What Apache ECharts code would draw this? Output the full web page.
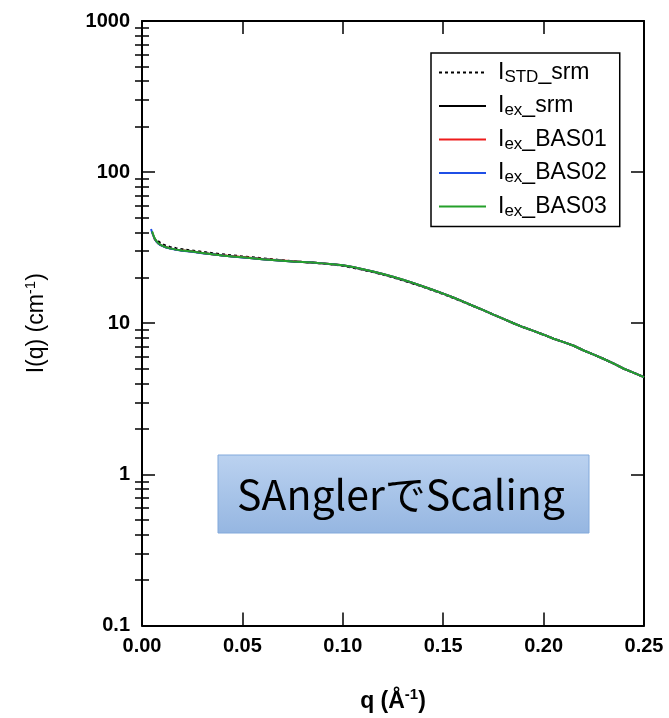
<!DOCTYPE html>
<html><head><meta charset="utf-8">
<script src="https://cdn.jsdelivr.net/npm/echarts@6/dist/echarts.min.js"></script>
<style>html,body{margin:0;padding:0;background:#fff}#c{width:669px;height:718px}</style>
</head><body><div id="c"></div>
<script>
// ---- data ----
const q = [0.0045, 0.005, 0.006, 0.007, 0.008, 0.009, 0.010, 0.012, 0.014, 0.017, 0.020, 0.025, 0.030, 0.035, 0.040, 0.045, 0.050, 0.055, 0.060, 0.065, 0.070, 0.075, 0.080, 0.085, 0.090, 0.095, 0.100, 0.105, 0.110, 0.115, 0.120, 0.125, 0.130, 0.135, 0.140, 0.145, 0.150, 0.155, 0.160, 0.165, 0.170, 0.175, 0.180, 0.185, 0.190, 0.195, 0.200, 0.205, 0.210, 0.215, 0.220, 0.225, 0.230, 0.235, 0.240, 0.245, 0.250];

const I_STD_srm = [null, null, null, null, 35.0, 34.2, 33.5, 32.6, 32.0, 31.4, 30.9, 30.3, 29.7, 29.1, 28.6, 28.1, 27.7, 27.3, 26.9, 26.5, 26.1, 25.7, 25.4, 25.1, 24.8, 24.5, 24.0, 23.3, 22.6, 21.8, 21.0, 20.1, 19.2, 18.3, 17.4, 16.5, 15.6, 14.7, 13.8, 13.0, 12.2, 11.4, 10.7, 10.0, 9.4, 8.9, 8.4, 7.9, 7.5, 7.1, 6.6, 6.2, 5.8, 5.4, 5.0, 4.7, 4.4];
const I_ex_srm  = [null, null, 36.6, 35.0, 33.9, 33.1, 32.6, 31.8, 31.3, 30.7, 30.3, 29.8, 29.2, 28.6, 28.1, 27.7, 27.3, 26.9, 26.5, 26.2, 25.9, 25.6, 25.4, 25.2, 24.9, 24.6, 24.1, 23.5, 22.7, 21.9, 21.1, 20.2, 19.3, 18.4, 17.5, 16.6, 15.7, 14.8, 13.9, 13.0, 12.2, 11.4, 10.7, 10.0, 9.4, 8.9, 8.4, 7.9, 7.5, 7.1, 6.6, 6.2, 5.8, 5.4, 5.0, 4.7, 4.4];
const I_ex_BAS01 = [null, 40.2, 37.0, 35.1, 33.9, 33.1, 32.6, 31.8, 31.3, 30.7, 30.3, 29.8, 29.2, 28.6, 28.2, 27.8, 27.4, 27.0, 26.6, 26.3, 26.0, 25.7, 25.4, 25.2, 24.9, 24.6, 24.2, 23.6, 22.8, 22.0, 21.2, 20.3, 19.4, 18.5, 17.5, 16.6, 15.7, 14.8, 13.9, 13.0, 12.2, 11.4, 10.7, 10.0, 9.4, 8.9, 8.4, 7.9, 7.5, 7.1, 6.6, 6.2, 5.8, 5.4, 5.0, 4.7, 4.4];
const I_ex_BAS02 = [42.0, 40.0, 37.0, 35.0, 33.8, 33.0, 32.5, 31.7, 31.2, 30.6, 30.2, 29.7, 29.1, 28.6, 28.1, 27.6, 27.2, 26.9, 26.5, 26.2, 25.9, 25.6, 25.4, 25.2, 24.9, 24.6, 24.2, 23.6, 22.8, 22.0, 21.2, 20.3, 19.4, 18.5, 17.5, 16.6, 15.7, 14.8, 13.9, 13.0, 12.2, 11.4, 10.7, 10.0, 9.4, 8.9, 8.4, 7.9, 7.5, 7.1, 6.6, 6.2, 5.8, 5.4, 5.0, 4.7, 4.4];
const I_ex_BAS03 = [null, 40.5, 37.2, 35.2, 34.0, 33.2, 32.6, 31.8, 31.3, 30.7, 30.3, 29.8, 29.2, 28.6, 28.1, 27.7, 27.3, 26.9, 26.5, 26.2, 25.9, 25.6, 25.4, 25.2, 24.9, 24.6, 24.2, 23.6, 22.8, 22.0, 21.2, 20.3, 19.4, 18.5, 17.5, 16.6, 15.7, 14.8, 13.9, 13.0, 12.2, 11.4, 10.7, 10.0, 9.4, 8.9, 8.4, 7.9, 7.5, 7.1, 6.6, 6.2, 5.8, 5.4, 5.0, 4.7, 4.4];

const seriesNames = ['I_STD_srm', 'I_ex_srm', 'I_ex_BAS01', 'I_ex_BAS02', 'I_ex_BAS03'];
const legendLabels = ['{m|I}{s|STD}{m|_srm}', '{m|I}{s|ex}{m|_srm}', '{m|I}{s|ex}{m|_BAS01}', '{m|I}{s|ex}{m|_BAS02}', '{m|I}{s|ex}{m|_BAS03}'];
const xTickValues = [0, 0.05, 0.10, 0.15, 0.20, 0.25];
const xTickLabels = ['0.00', '0.05', '0.10', '0.15', '0.20', '0.25'];
const yTickValues = [0.1, 1, 10, 100, 1000];
const yTickLabels = ['0.1', '1', '10', '100', '1000'];
const yMinorTickValues = [0.2, 0.3, 0.4, 0.5, 0.6, 0.7, 0.8, 0.9, 2, 3, 4, 5, 6, 7, 8, 9, 20, 30, 40, 50, 60, 70, 80, 90, 200, 300, 400, 500, 600, 700, 800, 900];
const annotationText = 'SAnglerでScaling';

// ---- chart ----
const FONT = 'Liberation Sans';
const colors = ['#000000', '#000000', '#ee1c1c', '#1f4fe6', '#25a02a'];
const dashes = [[3, 3], 'solid', 'solid', 'solid', 'solid'];
const allValues = [I_STD_srm, I_ex_srm, I_ex_BAS01, I_ex_BAS02, I_ex_BAS03];

function pairs(vals) {
  const out = [];
  for (let i = 0; i < q.length; i++) if (vals[i] != null) out.push([q[i], vals[i]]);
  return out;
}

const chart = echarts.init(document.getElementById('c'), null, {renderer: 'canvas'});

const tickLabelStyle = {fontFamily: FONT, fontSize: 20, fontWeight: 'bold', color: '#000'};
const lineBlack = {color: '#000', width: 2};

const option = {
  animation: false,
  backgroundColor: '#fff',
  grid: {left: 142, right: 25, top: 21, bottom: 91, show: false},
  xAxis: [
    {
      type: 'value', min: 0, max: 0.25, interval: 0.05, position: 'bottom',
      axisLine: {show: true, onZero: false, lineStyle: lineBlack},
      axisTick: {show: true, inside: true, length: 13, lineStyle: {color: '#000', width: 1.5}},
      splitLine: {show: false},
      axisLabel: {
        ...tickLabelStyle, margin: 11,
        formatter: v => { const i = xTickValues.findIndex(t => Math.abs(t - v) < 1e-9); return i >= 0 ? xTickLabels[i] : ''; }
      },
      name: '{b|q (Å}{sup|-1}{b|)}', nameLocation: 'middle', nameGap: 62,
      nameTextStyle: {
        rich: {
          b: {fontFamily: FONT, fontSize: 23, fontWeight: 'bold', color: '#000', lineHeight: 28},
          sup: {fontFamily: FONT, fontSize: 15, fontWeight: 'bold', color: '#000', lineHeight: 14, verticalAlign: 'top'}
        }
      }
    },
    {
      type: 'value', min: 0, max: 0.25, interval: 0.05, position: 'top',
      axisLine: {show: true, onZero: false, lineStyle: lineBlack},
      axisTick: {show: true, inside: true, length: 13, lineStyle: {color: '#000', width: 1.5}},
      splitLine: {show: false}, axisLabel: {show: false}
    }
  ],
  yAxis: [
    {
      type: 'log', logBase: 10, min: 0.1, max: 1000, position: 'left',
      axisLine: {show: true, onZero: false, lineStyle: lineBlack},
      axisTick: {show: true, inside: true, length: 13, customValues: yTickValues, lineStyle: {color: '#000', width: 1.5}},
      splitLine: {show: false},
      axisLabel: {
        ...tickLabelStyle, margin: 12, customValues: yTickValues,
        formatter: v => { const i = yTickValues.findIndex(t => Math.abs(Math.log10(t) - Math.log10(v)) < 1e-6); return i >= 0 ? yTickLabels[i] : ''; }
      },
      name: '{r|I(q) (cm}{sup|-1}{r|)}', nameLocation: 'middle', nameGap: 91,
      nameTextStyle: {
        rich: {
          r: {fontFamily: FONT, fontSize: 23, color: '#000', lineHeight: 28},
          sup: {fontFamily: FONT, fontSize: 15, color: '#000', lineHeight: 14, verticalAlign: 'top'}
        }
      }
    },
    {
      type: 'log', logBase: 10, min: 0.1, max: 1000, position: 'left',
      axisLine: {show: false},
      axisTick: {show: true, inside: true, length: 7, customValues: yMinorTickValues, lineStyle: {color: '#000', width: 1.5}},
      splitLine: {show: false}, axisLabel: {show: false}
    },
    {
      type: 'log', logBase: 10, min: 0.1, max: 1000, position: 'right',
      axisLine: {show: true, onZero: false, lineStyle: lineBlack},
      axisTick: {show: true, inside: true, length: 13, customValues: yTickValues, lineStyle: {color: '#000', width: 1.5}},
      splitLine: {show: false}, axisLabel: {show: false}
    },
    {
      type: 'log', logBase: 10, min: 0.1, max: 1000, position: 'right',
      axisLine: {show: false},
      axisTick: {show: true, inside: true, length: 7, customValues: yMinorTickValues, lineStyle: {color: '#000', width: 1.5}},
      splitLine: {show: false}, axisLabel: {show: false}
    }
  ],
  legend: {
    orient: 'vertical', left: 431, top: 53, selectedMode: false,
    backgroundColor: '#fff', borderColor: '#000', borderWidth: 1.5, borderRadius: 0,
    padding: [8, 13, 7, 7], itemWidth: 47, itemHeight: 12, itemGap: 9,
    itemStyle: {opacity: 0, borderWidth: 0},
    data: seriesNames,
    formatter: name => legendLabels[seriesNames.indexOf(name)],
    textStyle: {
      padding: [0, 0, 0, 7],
      rich: {
        m: {fontFamily: FONT, fontSize: 23, color: '#000', lineHeight: 26},
        s: {fontFamily: FONT, fontSize: 17, color: '#000', lineHeight: 12, verticalAlign: 'bottom'}
      }
    }
  },
  graphic: [
    {
      type: 'group', z: 100,
      children: [
        {
          type: 'rect', shape: {x: 218, y: 455, width: 371, height: 78},
          style: {
            fill: {type: 'linear', x: 0, y: 0, x2: 0, y2: 1, colorStops: [{offset: 0, color: '#bbd2f0'}, {offset: 1, color: '#95b6e1'}]},
            stroke: '#82a9db', lineWidth: 1
          }
        },
        {
          type: 'text', x: 401, y: 494,
          style: {text: annotationText, font: '41px "Noto Sans CJK JP"', fill: '#000', align: 'center', verticalAlign: 'middle'}
        }
      ]
    }
  ],
  series: seriesNames.map((n, k) => ({
    type: 'line', name: n, data: pairs(allValues[k]),
    xAxisIndex: 0, yAxisIndex: 0,
    symbol: 'none', showSymbol: false, smooth: false, clip: true,
    lineStyle: {color: colors[k], width: 2, type: dashes[k]},
    itemStyle: {color: colors[k]},
    emphasis: {disabled: true}
  }))
};
chart.setOption(option);
</script>
</body></html>
